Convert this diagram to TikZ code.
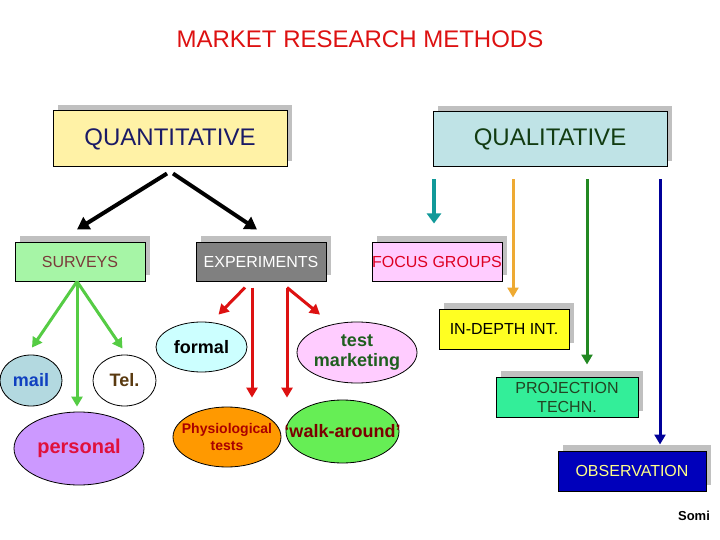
\documentclass[tikz,border=0pt]{standalone}
\usepackage{fontspec}
\setmainfont{Liberation Sans}
\usetikzlibrary{arrows.meta,shadows,shapes.geometric}

\definecolor{titlered}{HTML}{DD1111}
\definecolor{shadowgray}{HTML}{C0C0C0}
\definecolor{quantfill}{HTML}{FFF2A6}
\definecolor{quanttext}{HTML}{1A1A66}
\definecolor{qualfill}{HTML}{BFE3E6}
\definecolor{qualtext}{HTML}{123C12}
\definecolor{survfill}{HTML}{A6F5A6}
\definecolor{survtext}{HTML}{7A3A3A}
\definecolor{expfill}{HTML}{808080}
\definecolor{focfill}{HTML}{FFCCFF}
\definecolor{foctext}{HTML}{DD0022}
\definecolor{indfill}{HTML}{FFFF22}
\definecolor{projfill}{HTML}{33EE99}
\definecolor{projtext}{HTML}{224422}
\definecolor{obsfill}{HTML}{0000BB}
\definecolor{obstext}{HTML}{FFFF88}
\definecolor{mailfill}{HTML}{B3D9E0}
\definecolor{mailtext}{HTML}{1040C0}
\definecolor{teltext}{HTML}{5A3A10}
\definecolor{persfill}{HTML}{CC99FF}
\definecolor{perstext}{HTML}{E0103C}
\definecolor{formfill}{HTML}{CCFFFF}
\definecolor{physfill}{HTML}{FF9900}
\definecolor{phystext}{HTML}{AA0000}
\definecolor{testfill}{HTML}{FFCCFF}
\definecolor{testtext}{HTML}{1F5F1F}
\definecolor{walkfill}{HTML}{66EE55}
\definecolor{walktext}{HTML}{7A0000}
\definecolor{sgreen}{HTML}{55CC44}
\definecolor{ered}{HTML}{DD1111}
\definecolor{qteal}{HTML}{119999}
\definecolor{qorange}{HTML}{EEAA33}
\definecolor{qgreen}{HTML}{228822}
\definecolor{qblue}{HTML}{000099}

\tikzset{
  methodbox/.style={draw=black, line width=1pt, inner sep=0pt, align=center,
    general shadow={fill=shadowgray, shadow xshift=5pt, shadow yshift=6pt},
    font=\fontsize{16}{19}\selectfont},
  blob/.style={ellipse, draw=black, line width=0.8pt, inner xsep=-20pt, inner ysep=-6pt,
    align=center, font=\bfseries\fontsize{18}{20}\selectfont},
  karrow/.style={line width=4pt, -{Triangle[length=12pt,width=14pt]}},
  carrow/.style={line width=3pt, -{Triangle[length=10pt,width=11pt]}},
}

\begin{document}
\begin{tikzpicture}[x=1pt,y=-1pt]
\useasboundingbox (0,0) rectangle (720,540);
% title
\node[text=titlered, font=\fontsize{24}{27}\selectfont] (title) at (360,39) {MARKET RESEARCH METHODS};
% top level
\node[methodbox, fill=quantfill, text=quanttext, minimum width=234pt, minimum height=56pt,
  font=\fontsize{24}{26}\selectfont] (quant) at (170,139) {QUANTITATIVE};
\node[methodbox, fill=qualfill, text=qualtext, minimum width=234pt, minimum height=55pt,
  font=\fontsize{24}{26}\selectfont] (qual) at (550,139.5) {QUALITATIVE};
% second level
\node[methodbox, fill=survfill, text=survtext, minimum width=130pt, minimum height=39pt] (surv) at (80,261.5) {SURVEYS};
\node[methodbox, fill=expfill, text=white, minimum width=130pt, minimum height=39pt] (exp) at (261,261.5) {EXPERIMENTS};
\node[methodbox, fill=focfill, text=foctext, minimum width=130pt, minimum height=39pt] (foc) at (437,261.5) {FOCUS GROUPS};
\node[methodbox, fill=indfill, text=black, minimum width=130pt, minimum height=40pt] (indepth) at (504,329) {IN-DEPTH INT.};
\node[methodbox, fill=projfill, text=projtext, minimum width=142pt, minimum height=40pt] (proj) at (567,397) {PROJECTION\\TECHN.};
\node[methodbox, fill=obsfill, text=obstext, minimum width=148pt, minimum height=40pt] (obs) at (632,471) {OBSERVATION};
% survey kinds
\node[blob, fill=mailfill, text=mailtext, minimum width=62pt, minimum height=51pt] (mail) at (31,380.5) {mail};
\node[blob, fill=white, text=teltext, minimum width=63pt, minimum height=51pt] (tel) at (124.5,380.5) {Tel.};
\node[blob, fill=persfill, text=perstext, minimum width=130pt, minimum height=73pt,
  font=\bfseries\fontsize{20}{22}\selectfont] (pers) at (79,448.5) {personal};
% experiment kinds
\node[blob, fill=formfill, text=black, minimum width=91pt, minimum height=50pt] (formal) at (201.5,347) {formal};
\node[blob, fill=testfill, text=testtext, minimum width=120pt, minimum height=61pt] (testm) at (357,352.5) {test\\marketing};
\node[blob, fill=physfill, text=phystext, minimum width=108pt, minimum height=60pt,
  font=\bfseries\fontsize{14}{17}\selectfont] (phys) at (227,437) {Physiological\\tests};
\node[blob, fill=walkfill, text=walktext, minimum width=113pt, minimum height=63pt] (walk) at (342.5,431.5) {‘walk-around’};
% signature
\node[font=\bfseries\fontsize{13}{15}\selectfont] (somi) at (694,516) {Somi};

% quantitative branches
\draw[karrow] ([xshift=-3pt,yshift=-6pt]quant.south) -- ([xshift=-3pt,yshift=12pt]surv.north);
\draw[karrow] ([xshift=3pt,yshift=-6pt]quant.south) -- ([xshift=-4pt,yshift=12pt]exp.north);
% surveys
\coordinate (gtop) at ([xshift=-3pt]surv.south);
\draw[carrow, sgreen] (gtop) -- ([xshift=1pt,yshift=7pt]mail.north);
\draw[carrow, sgreen] (gtop) -- ([yshift=5pt]pers.north -| gtop);
\draw[carrow, sgreen] (gtop) -- ([xshift=-2pt,yshift=6pt]tel.north);
% experiments
\coordinate (redA) at ([xshift=-9pt,yshift=-6pt]exp.south);
\coordinate (redB) at ([xshift=26pt,yshift=-6pt]exp.south);
\draw[carrow, ered] ([xshift=-7pt]redA) -- ([xshift=17pt,yshift=7pt]formal.north);
\draw[carrow, ered] (redA) -- ([yshift=9pt]phys.north -| redA);
\draw[carrow, ered] (redB) -- ([yshift=2pt]walk.north -| redB);
\draw[carrow, ered] (redB) -- ([xshift=-37pt,yshift=7pt]testm.north);
% qualitative branches
\draw[qteal, line width=4pt, shorten <=12pt, -{Triangle[length=10pt,width=14pt]}] ([xshift=-3pt]foc.north |- qual.south) -- ([xshift=-3pt,yshift=18pt]foc.north);
\draw[carrow, qorange, shorten <=12pt] ([xshift=9pt]indepth.north |- qual.south) -- ([xshift=9pt,yshift=11pt]indepth.north);
\draw[carrow, qgreen, shorten <=12pt] ([xshift=20pt]proj.north |- qual.south) -- ([xshift=20pt,yshift=12pt]proj.north);
\draw[carrow, qblue, shorten <=12pt] ([xshift=28pt]obs.north |- qual.south) -- ([xshift=28pt,yshift=6pt]obs.north);
\end{tikzpicture}
\end{document}
